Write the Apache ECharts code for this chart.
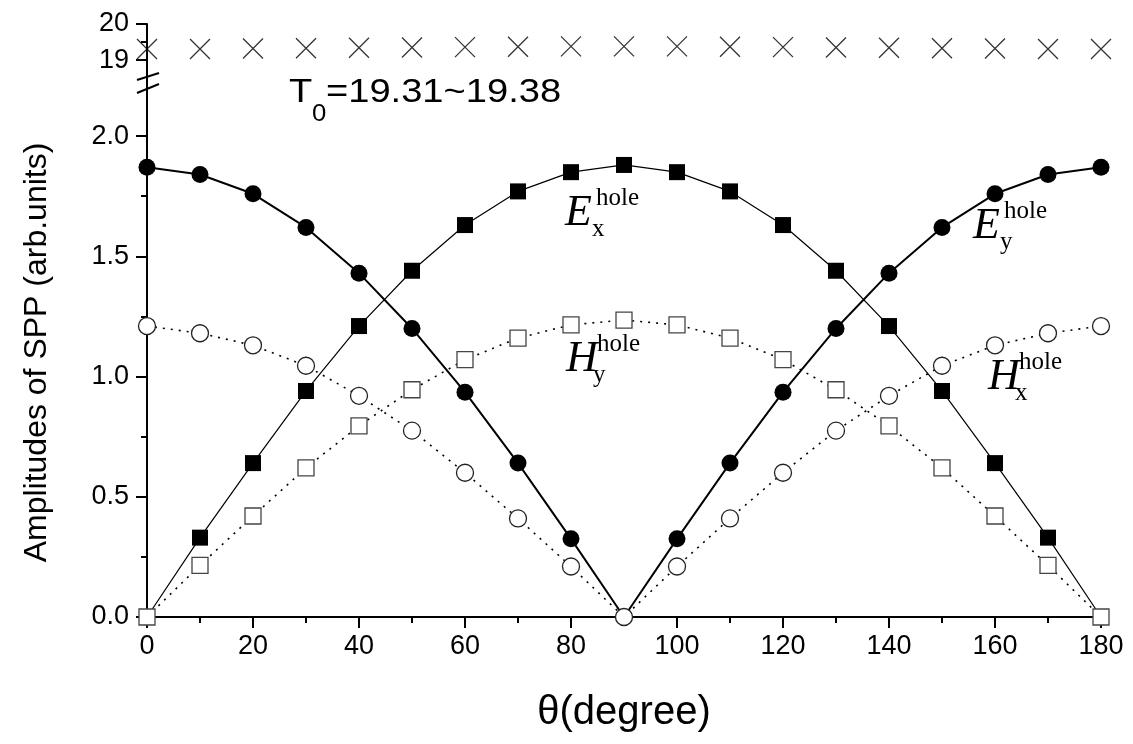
<!DOCTYPE html>
<html>
<head>
<meta charset="utf-8">
<script src="https://cdn.jsdelivr.net/npm/echarts@6/dist/echarts.min.js"></script>
<style>
  html, body { margin: 0; padding: 0; background: #fff; }
  #chart { width: 1133px; height: 744px; }
</style>
</head>
<body>
<div id="chart"></div>
<script>
// angle of incidence (degree)
const angles = [0, 10, 20, 30, 40, 50, 60, 70, 80, 90, 100, 110, 120, 130, 140, 150, 160, 170, 180];
// filled squares, solid line
const exHole = [0, 0.33, 0.64, 0.94, 1.21, 1.44, 1.63, 1.77, 1.85, 1.88, 1.85, 1.77, 1.63, 1.44, 1.21, 0.94, 0.64, 0.33, 0];
// filled circles, solid line
const eyHole = [1.87, 1.84, 1.76, 1.62, 1.43, 1.20, 0.935, 0.64, 0.325, 0, 0.325, 0.64, 0.935, 1.20, 1.43, 1.62, 1.76, 1.84, 1.87];
// open circles, dotted line
const hxHole = [1.21, 1.18, 1.13, 1.045, 0.92, 0.775, 0.60, 0.41, 0.21, 0, 0.21, 0.41, 0.60, 0.775, 0.92, 1.045, 1.13, 1.18, 1.21];
// open squares, dotted line
const hyHole = [0, 0.215, 0.42, 0.62, 0.795, 0.945, 1.07, 1.16, 1.215, 1.235, 1.215, 1.16, 1.07, 0.945, 0.795, 0.62, 0.42, 0.215, 0];
// T0 (crosses in the upper panel)
const t0Values = [19.31, 19.31, 19.32, 19.33, 19.34, 19.35, 19.36, 19.37, 19.38, 19.38, 19.38, 19.37, 19.36, 19.35, 19.34, 19.33, 19.32, 19.31, 19.31];

const yTicks = [0, 0.5, 1, 1.5, 2];
const yMinorTicks = [0.25, 0.75, 1.25, 1.75];
const topTicks = [19, 20];
const topMinorTicks = [19.5];

const pairs = vals => angles.map((a, i) => [a, vals[i]]);

const FONT = '"Liberation Sans", Arial, sans-serif';
const SERIF = '"Liberation Serif", "Times New Roman", serif';
const black = '#000';

const chart = echarts.init(document.getElementById('chart'));

const option = {
  animation: false,
  backgroundColor: '#fff',
  grid: [
    { left: 147, right: 32, top: 88, bottom: 127 },  // lower panel
    { left: 147, right: 32, top: 24, bottom: 655 }   // upper panel (T0)
  ],
  xAxis: [
    {
      gridIndex: 0, type: 'value', min: 0, max: 180, interval: 20,
      name: 'θ(degree)', nameLocation: 'middle', nameGap: 76,
      nameTextStyle: { fontFamily: FONT, fontSize: 40, color: black },
      axisLine: { lineStyle: { color: black, width: 2 } },
      axisTick: { length: 11, lineStyle: { color: black, width: 2 } },
      minorTick: { show: true, splitNumber: 2, length: 6, lineStyle: { color: black, width: 2 } },
      axisLabel: { fontFamily: FONT, fontSize: 27, color: black, margin: 16 },
      splitLine: { show: false }
    },
    { gridIndex: 1, type: 'value', min: 0, max: 180, show: false }
  ],
  yAxis: [
    {
      gridIndex: 0, type: 'value', min: 0, max: 2.2, position: 'left',
      name: 'Amplitudes of SPP (arb.units)', nameLocation: 'middle', nameGap: 94,
      nameTextStyle: { fontFamily: FONT, fontSize: 32, color: black },
      axisLine: { show: true, lineStyle: { color: black, width: 2 } },
      axisTick: { customValues: yTicks, length: 11, lineStyle: { color: black, width: 2 } },
      axisLabel: { customValues: yTicks, fontFamily: FONT, fontSize: 27, color: black, margin: 18,
                   formatter: v => v.toFixed(1) },
      splitLine: { show: false }
    },
    {
      gridIndex: 0, type: 'value', min: 0, max: 2.2, position: 'left', offset: 0,
      axisLine: { show: false },
      axisTick: { customValues: yMinorTicks, length: 6, lineStyle: { color: black, width: 2 } },
      axisLabel: { show: false },
      splitLine: { show: false }
    },
    {
      gridIndex: 1, type: 'value', min: 18.2, max: 20, position: 'left',
      axisLine: { show: true, lineStyle: { color: black, width: 2 } },
      axisTick: { customValues: topTicks, length: 11, lineStyle: { color: black, width: 2 } },
      axisLabel: { customValues: topTicks, fontFamily: FONT, fontSize: 27, color: black, margin: 18 },
      splitLine: { show: false }
    },
    {
      gridIndex: 1, type: 'value', min: 18.2, max: 20, position: 'left', offset: 0,
      axisLine: { show: false },
      axisTick: { customValues: topMinorTicks, length: 6, lineStyle: { color: black, width: 2 } },
      axisLabel: { show: false },
      splitLine: { show: false }
    }
  ],
  series: [
    {
      name: 'Ey', type: 'line', xAxisIndex: 0, yAxisIndex: 0, data: pairs(eyHole),
      symbol: 'circle', symbolSize: 17,
      itemStyle: { color: black },
      lineStyle: { color: black, width: 2 }
    },
    {
      name: 'Ex', type: 'line', xAxisIndex: 0, yAxisIndex: 0, data: pairs(exHole),
      symbol: 'rect', symbolSize: 16,
      itemStyle: { color: black },
      lineStyle: { color: black, width: 1.2 }
    },
    {
      name: 'Hx', type: 'line', xAxisIndex: 0, yAxisIndex: 0, data: pairs(hxHole),
      symbol: 'circle', symbolSize: 17, showAllSymbol: true,
      itemStyle: { color: '#fff', borderColor: '#222', borderWidth: 1.3 },
      lineStyle: { color: black, width: 1.6, type: [2, 6] }
    },
    {
      name: 'Hy', type: 'line', xAxisIndex: 0, yAxisIndex: 0, data: pairs(hyHole),
      symbol: 'rect', symbolSize: 16,
      itemStyle: { color: '#fff', borderColor: '#444', borderWidth: 1.3 },
      lineStyle: { color: black, width: 1.6, type: [2, 6] }
    },
    {
      name: 'T0', type: 'scatter', xAxisIndex: 1, yAxisIndex: 2, data: pairs(t0Values),
      symbol: 'path://M0,0L10,10M10,0L0,10', symbolSize: 20,
      itemStyle: { color: 'none', borderColor: black, borderWidth: 1.3 }
    }
  ]
};

chart.setOption(option);

// axis break marks and annotations
const ax = chart.convertToPixel({ xAxisIndex: 0 }, 0);
const yTop = chart.convertToPixel({ yAxisIndex: 0 }, 2.2);
const sub = (text, x, y, size, italic) => ({
  type: 'text', x: x, y: y,
  style: { text: text, fill: black, verticalAlign: 'middle',
           font: (italic ? 'italic ' : '') + size + 'px ' + SERIF }
});
const label = (big, supTxt, subTxt, x, y) => [
  sub(big, x, y, 44, true),
  sub(supTxt, x + 31, y - 15, 25, false),
  sub(subTxt, x + 27, y + 16, 25, false)
];

chart.setOption({
  graphic: [
    { type: 'line', shape: { x1: ax - 10, y1: yTop - 8, x2: ax + 12, y2: yTop - 15 },
      style: { stroke: black, lineWidth: 2 } },
    { type: 'line', shape: { x1: ax - 10, y1: yTop + 5, x2: ax + 12, y2: yTop - 4 },
      style: { stroke: black, lineWidth: 2 } },
    { type: 'text', x: 289, y: 93, scaleX: 1.12,
      style: { text: 'T', fill: black, verticalAlign: 'middle', font: '34px ' + FONT } },
    { type: 'text', x: 312, y: 115, scaleX: 1.12,
      style: { text: '0', fill: black, verticalAlign: 'middle', font: '23px ' + FONT } },
    { type: 'text', x: 326, y: 93, scaleX: 1.12,
      style: { text: '=19.31~19.38', fill: black, verticalAlign: 'middle', font: '34px ' + FONT } },
    ...label('E', 'hole', 'x', 565, 213),
    ...label('H', 'hole', 'y', 566, 359),
    ...label('E', 'hole', 'y', 973, 226),
    ...label('H', 'hole', 'x', 988, 377)
  ]
});
</script>
</body>
</html>
